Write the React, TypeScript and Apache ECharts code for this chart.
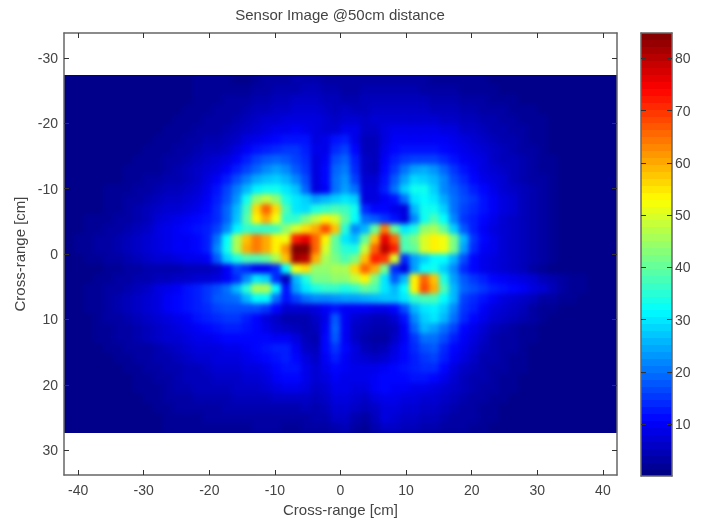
import React, { useEffect, useRef } from "react";
import * as echarts from "echarts";

const titleText = "Sensor Image @50cm distance";
const axisName = "Cross-range [cm]";
const xTicks = [-40, -30, -20, -10, 0, 10, 20, 30, 40];
const yTicks = [-30, -20, -10, 0, 10, 20, 30];
const colorTicks = [10, 20, 30, 40, 50, 60, 70, 80];
const jetColors = ["#00007f", "#0000ff", "#007fff", "#00ffff", "#7fff7f", "#ffff00", "#ff7f00", "#ff0000", "#7f0000"];
const colorMin = 0.05;
const colorMax = 84.85;
const colorLevels = 64;

// Sensor magnitude: rows top to bottom, columns left to right.
const sensorRows: number[][] = [
  [1,1,1,1,1,1,1,1,1,1, 1,1,1,2,2,2,2,1,1,2, 3,3,3,4,4,4,3,3,3,3, 3,3,3,3,3,3,3,2,2,2, 2,2,2,1,1,1,1,1,1,1, 1,1,1,1,1,1],
  [1,1,1,1,1,1,1,1,1,1, 1,1,1,2,2,2,2,2,2,3, 3,4,4,4,5,5,4,4,3,3, 4,4,4,4,4,4,3,3,3,3, 2,2,2,2,1,1,1,1,1,1, 1,1,1,1,1,1],
  [1,1,1,1,1,1,1,1,1,1, 1,1,1,2,2,2,3,3,3,4, 4,5,5,6,6,6,5,5,4,4, 5,5,5,5,5,5,5,4,4,4, 3,3,3,2,2,2,1,1,1,1, 1,1,1,1,1,1],
  [1,1,1,1,1,1,1,1,1,1, 1,1,2,2,2,3,3,3,4,5, 5,6,6,7,7,7,6,5,6,5, 5,6,6,6,6,6,6,5,5,5, 4,4,3,3,3,2,2,2,1,1, 1,1,1,1,1,1],
  [1,1,1,1,1,1,1,1,1,1, 1,2,2,2,3,3,3,4,5,6, 7,7,8,8,8,8,7,6,7,7, 6,7,7,7,7,7,7,7,6,6, 5,5,4,4,3,3,2,2,2,1, 1,1,1,1,1,1],
  [1,1,1,1,1,1,1,1,1,1, 2,2,2,3,3,3,4,5,6,7, 8,9,9,10,9,8,7,7,9,9, 6,6,8,9,9,9,9,9,8,8, 6,6,5,4,4,3,3,2,2,1, 1,1,1,1,1,1],
  [1,1,1,1,1,1,1,1,1,2, 2,2,3,3,4,4,5,6,8,9, 10,11,12,12,12,8,9,12,13,9, 5,5,8,10,10,10,10,10,10,9, 8,7,6,5,4,4,3,2,2,1, 1,1,1,1,1,1],
  [1,1,1,1,1,1,1,1,2,2, 2,3,3,4,5,5,6,8,10,12, 13,14,15,15,13,9,9,14,16,11, 5,5,9,11,12,12,12,12,11,10, 9,8,7,6,5,4,3,3,2,1, 1,1,1,1,1,1],
  [1,1,1,1,1,1,1,2,2,2, 3,3,4,5,6,7,8,10,13,16, 18,19,18,16,14,8,10,17,19,13, 6,5,10,13,15,16,16,16,14,12, 10,9,8,6,5,5,4,3,2,2, 1,1,1,1,1,1],
  [1,1,1,1,1,1,2,2,2,2, 3,4,5,6,7,8,10,13,16,19, 22,24,22,18,15,8,11,19,21,14, 6,5,11,15,20,24,25,23,19,15, 12,10,8,7,6,5,4,3,2,2, 1,1,1,1,1,1],
  [1,1,1,1,1,1,2,2,3,3, 4,4,5,6,8,10,13,17,21,25, 27,28,26,22,17,8,11,20,23,16, 7,7,12,18,24,29,28,26,22,17, 14,11,9,8,7,5,4,3,3,2, 1,1,1,1,1,1],
  [1,1,1,1,2,2,2,3,3,4, 5,5,6,7,9,12,16,21,26,31, 33,33,30,27,19,8,10,20,24,20, 8,8,13,20,28,33,33,28,22,19, 16,13,11,9,7,6,5,4,3,2, 1,1,1,1,1,1],
  [1,1,1,1,2,2,3,3,4,5, 6,6,7,8,10,13,17,23,33,44, 48,44,34,30,28,24,26,28,30,28, 8,8,10,12,20,30,32,30,25,20, 17,15,12,10,8,7,5,4,3,2, 1,1,1,1,1,1],
  [1,1,1,1,2,2,3,4,5,6, 7,7,8,9,11,14,19,26,37,56, 66,56,38,30,29,34,36,38,37,33, 14,11,11,9,8,26,33,33,28,20, 16,14,12,10,8,7,5,4,3,2, 1,1,1,1,1,1],
  [1,1,2,2,2,3,3,4,5,7, 8,9,10,11,12,14,19,27,39,54, 60,52,36,36,42,48,54,50,40,32, 20,18,15,12,8,22,33,38,32,22, 15,13,11,9,7,6,5,4,3,2, 1,1,1,1,1,1],
  [1,1,2,2,3,3,4,5,6,8, 9,10,11,12,13,16,22,31,36,36, 36,37,44,50,56,60,68,58,35,22, 26,40,64,40,30,34,44,46,40,28, 18,13,10,8,7,6,5,4,3,2, 1,1,1,1,1,1],
  [1,2,2,3,3,4,5,6,7,8, 9,10,10,11,13,20,32,46,58,64, 60,54,52,72,76,66,54,40,30,27, 40,58,76,66,38,42,50,54,52,42, 26,15,11,9,7,6,5,4,3,2, 1,1,1,1,1,1],
  [1,2,2,3,3,4,5,6,7,8, 9,10,10,11,13,22,33,46,60,64, 60,54,62,85,85,66,50,40,35,34, 48,66,80,72,38,40,50,54,52,42, 24,14,10,9,7,6,5,4,3,2, 1,1,1,1,1,1],
  [1,1,2,2,3,3,4,5,6,7, 7,8,9,9,10,18,28,34,38,38, 40,46,58,82,80,60,46,42,38,42, 58,72,70,50,14,24,28,32,32,26, 17,11,9,8,7,6,5,4,3,2, 1,1,1,1,1,1],
  [1,1,1,1,2,2,3,3,4,4, 4,4,5,5,5,6,10,16,14,10, 10,14,32,52,56,44,44,46,46,56, 66,60,42,14,8,24,32,33,28,22, 14,11,9,8,7,6,5,3,2,1, 1,1,1,1,1,1],
  [1,1,1,2,2,3,3,4,4,5, 5,6,6,7,7,8,10,14,22,30, 28,14,5,26,34,42,42,44,44,48, 54,42,30,18,26,54,66,58,34,24, 18,15,13,11,10,9,8,7,5,4, 3,2,2,1,1,1],
  [1,1,2,2,3,3,4,5,6,8, 9,10,12,13,15,17,20,26,35,46, 46,32,12,24,30,34,36,36,34,36, 40,38,30,26,32,54,68,60,38,26, 19,17,15,13,12,11,10,8,7,5, 3,2,2,1,1,1],
  [1,1,2,2,3,4,5,6,7,8, 10,11,12,13,15,18,19,20,26,32, 32,20,12,16,20,22,22,23,24,24, 25,26,27,27,30,36,38,38,32,26, 16,14,12,10,8,7,6,5,3,3, 2,2,1,1,1,1],
  [1,1,2,2,3,4,5,6,7,8, 10,11,12,13,14,16,17,17,17,17, 15,11,7,7,7,8,10,12,10,10, 10,9,9,11,17,26,30,31,28,22, 15,13,10,8,7,6,5,3,2,2, 1,1,1,1,1,1],
  [1,1,1,2,3,3,4,5,6,7, 8,9,10,12,13,14,15,15,13,11, 8,6,4,4,4,6,9,18,10,7, 6,5,5,7,12,22,28,30,26,20, 14,11,9,7,6,5,4,3,2,1, 1,1,1,1,1,1],
  [1,1,1,2,2,3,3,4,5,6, 7,8,9,10,11,12,13,13,12,11, 9,7,6,5,4,5,10,19,10,6, 5,4,4,5,10,19,26,24,20,16, 11,9,7,5,4,3,2,2,1,1, 1,1,1,1,1,1],
  [1,1,1,2,2,3,3,4,5,6, 7,7,8,9,9,10,11,11,11,11, 11,10,10,8,5,4,11,18,10,6, 4,3,3,6,10,15,20,20,17,13, 10,8,6,4,3,3,2,2,1,1, 1,1,1,1,1,1],
  [1,1,1,1,2,2,3,3,3,4, 5,6,7,8,8,8,9,9,10,11, 12,13,13,10,6,5,11,15,11,8, 5,4,5,8,11,14,17,18,14,11, 9,7,5,4,3,3,2,1,1,1, 1,1,1,1,1,1],
  [1,1,1,1,1,2,2,3,3,4, 4,5,6,7,7,8,8,8,9,10, 11,12,13,11,8,6,10,13,10,8, 7,6,7,9,11,13,15,16,13,10, 8,6,4,4,3,2,2,1,1,1, 1,1,1,1,1,1],
  [1,1,1,1,1,1,2,2,3,3, 4,4,5,5,6,7,7,7,8,8, 9,11,12,12,9,7,9,11,10,9, 9,9,10,11,12,13,14,14,11,8, 6,5,4,3,3,2,2,1,1,1, 1,1,1,1,1,1],
  [1,1,1,1,1,1,1,2,2,3, 3,4,5,5,5,6,6,6,7,7, 8,10,11,11,9,7,8,10,9,9, 9,10,11,11,11,12,12,11,9,7, 5,4,4,3,2,2,1,1,1,1, 1,1,1,1,1,1],
  [1,1,1,1,1,1,1,2,2,2, 3,4,4,5,5,5,5,6,6,6, 7,8,9,9,8,6,7,9,9,8, 8,10,11,10,10,9,9,8,7,6, 5,4,3,3,2,2,1,1,1,1, 1,1,1,1,1,1],
  [1,1,1,1,1,1,1,1,2,2, 3,3,3,4,4,4,4,5,5,5, 5,6,6,6,6,5,6,8,8,7, 6,8,9,9,8,8,7,7,6,5, 4,3,3,2,2,1,1,1,1,1, 1,1,1,1,1,1],
  [1,1,1,1,1,1,1,1,1,2, 2,3,3,3,3,3,4,4,4,4, 4,4,4,4,5,4,5,7,7,6, 5,6,8,8,7,7,6,6,5,4, 3,3,2,2,1,1,1,1,1,1, 1,1,1,1,1,1],
  [1,1,1,1,1,1,1,1,1,1, 2,2,2,2,3,3,3,3,3,3, 3,3,3,3,3,4,4,6,6,4, 3,5,8,7,6,6,5,5,4,3, 3,3,2,2,1,1,1,1,1,1, 1,1,1,1,1,1],
  [1,1,1,1,1,1,1,1,1,1, 2,2,2,2,2,2,2,2,2,3, 3,3,2,2,3,3,3,4,5,3, 2,4,6,6,5,5,4,4,3,3, 3,2,2,1,1,1,1,1,1,1, 1,1,1,1,1,1],
];

const FONT = "'Liberation Sans', Arial, sans-serif";
const TEXT = "#444444";
const LINE = "#666666";

function boxAxis(pos: string, ticks: number[], min: number, max: number, grid: number, labels: boolean, extra: any = {}) {
  return {
    type: "value",
    gridIndex: grid,
    position: pos,
    min,
    max,
    z: 5,
    axisLine: { show: true, onZero: false, lineStyle: { color: LINE, width: 1.5 } },
    axisTick: { show: ticks.length > 0, inside: true, length: 5, customValues: ticks, lineStyle: { color: "#333333", width: 1 } },
    axisLabel: { show: labels, customValues: ticks, color: TEXT, fontFamily: FONT, fontSize: 14, margin: 6, showMinLabel: true, showMaxLabel: true },
    splitLine: { show: false },
    ...extra,
  };
}

export default function App() {
  const heatRef = useRef<HTMLDivElement>(null);
  const ref = useRef<HTMLDivElement>(null);
  useEffect(() => {
    const heat = echarts.init(heatRef.current!, undefined, { renderer: "svg" });
    const chart = echarts.init(ref.current!, undefined, { renderer: "svg" });
    const cols = sensorRows[0].map((_, i) => String(i));
    const rows = sensorRows.map((_, i) => String(i));
    const cells: number[][] = [];
    sensorRows.forEach((row, r) => row.forEach((v, c) => cells.push([c, r, v])));
    heat.setOption({
      animation: false,
      backgroundColor: "#000085",
      grid: { left: 10, top: 10, width: 553, height: 358, outerBoundsMode: "none" },
      xAxis: { type: "category", data: cols, show: false },
      yAxis: { type: "category", data: rows, inverse: true, show: false },
      visualMap: { show: false, type: "continuous", dimension: 2, min: colorMin, max: colorMax, inRange: { color: jetColors } },
      series: [{ type: "heatmap", data: cells, progressive: 0, itemStyle: { borderWidth: 0 }, emphasis: { disabled: true } }],
    });
    const step = (colorMax - colorMin) / colorLevels;
    const bands = Array.from({ length: colorLevels }, (_, i) => [colorMin + i * step, colorMin + (i + 1) * step, colorMin + (i + 0.5) * step]);
    const nameStyle = { color: TEXT, fontFamily: FONT, fontSize: 15 };
    chart.setOption({
      animation: false,
      title: {
        text: titleText,
        left: 335,
        top: 2,
        textAlign: "center",
        textStyle: { color: TEXT, fontFamily: FONT, fontSize: 15, fontWeight: "normal" },
      },
      grid: [
        { left: 64, top: 33, width: 553, height: 442, outerBoundsMode: "none" },
        { left: 641, top: 33, width: 31, height: 443, outerBoundsMode: "none" },
      ],
      xAxis: [
        boxAxis("bottom", xTicks, -42.15, 42.15, 0, true, {
          axisLabel: { customValues: xTicks, color: TEXT, fontFamily: FONT, fontSize: 14, margin: 8 },
          name: axisName,
          nameLocation: "middle",
          nameGap: 27,
          nameTextStyle: nameStyle,
        }),
        boxAxis("top", xTicks, -42.15, 42.15, 0, false),
        boxAxis("bottom", [], 0, 1, 1, false),
        boxAxis("top", [], 0, 1, 1, false),
      ],
      yAxis: [
        boxAxis("left", yTicks, -33.8, 33.8, 0, true, {
          inverse: true,
          name: axisName,
          nameLocation: "middle",
          nameGap: 35,
          nameTextStyle: nameStyle,
        }),
        boxAxis("right", yTicks, -33.8, 33.8, 0, false, { inverse: true }),
        boxAxis("right", colorTicks, colorMin, colorMax, 1, true, { axisLabel: { customValues: colorTicks, color: TEXT, fontFamily: FONT, fontSize: 14, margin: 3 } }),
        boxAxis("left", colorTicks, colorMin, colorMax, 1, false),
      ],
      visualMap: [
        { show: false, type: "continuous", seriesIndex: 0, dimension: 2, min: colorMin, max: colorMax, inRange: { color: jetColors } },
      ],
      series: [
        {
          type: "custom",
          xAxisIndex: 2,
          yAxisIndex: 2,
          data: bands,
          encode: { y: 0 },
          z: 2,
          clip: false,
          silent: true,
          renderItem: (_: any, api: any) => {
            const a = api.coord([0, api.value(0)]);
            const b = api.coord([1, api.value(1)]);
            return {
              type: "rect",
              shape: { x: a[0], y: Math.floor(b[1]), width: b[0] - a[0], height: Math.ceil(a[1]) - Math.floor(b[1]) },
              style: { fill: api.visual("color") },
            };
          },
        },
      ],
    });
    return () => {
      chart.dispose();
      heat.dispose();
    };
  }, []);
  return (
    <div style={{ position: "absolute", left: 0, top: 0, width: 707, height: 520, background: "#ffffff", overflow: "hidden" }}>
      <div style={{ position: "absolute", left: 64, top: 75, width: 553, height: 358, overflow: "hidden" }}>
        <div ref={heatRef} style={{ position: "absolute", left: -10, top: -10, width: 573, height: 378, filter: "blur(2.5px)" }} />
      </div>
      <div ref={ref} style={{ position: "absolute", left: 0, top: 0, width: 707, height: 520, filter: "blur(0.35px)" }} />
    </div>
  );
}
